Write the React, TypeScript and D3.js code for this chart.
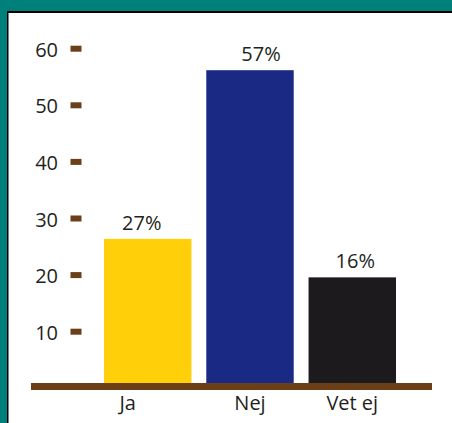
import React from "react";
import * as d3 from "d3";

const categories = ["Ja", "Nej", "Vet ej"];
const values = [26.4, 56.2, 19.6];
const valueLabels = ["27%", "57%", "16%"];
const barColors = ["#ffd00a", "#1a2a84", "#1c1a1d"];
const yTicks = [10, 20, 30, 40, 50, 60];

const W = 452;
const H = 423;
const TEAL = "#00807a";
const BROWN = "#6b3f18";
const FONT = "'Open Sans', 'Noto Sans', sans-serif";

export default function App() {
  const y = d3.scaleLinear().domain([0, 60]).range([388.3, 48.7]);
  const x = d3.scaleBand().domain(categories).range([104, 396]).paddingInner(0.145).paddingOuter(0);
  const catDx = [-20, 0, 0];
  const valDx = [-6, 11, 3];

  return (
    <svg width={W} height={H} style={{ position: "fixed", left: 0, top: 0 }}>
      <rect x={0} y={0} width={W} height={H} fill={TEAL} />
      <rect x={7} y={11} width={W - 7} height={H - 11} fill="#000" />
      <rect x={8.5} y={13} width={W - 8.5} height={H - 13} fill="#fff" />
      {yTicks.map((t) => (
        <g key={t}>
          <rect x={70.5} y={y(t) - 3} width={11} height={6} fill={BROWN} />
          <text x={58} y={y(t)} dy="0.4em" textAnchor="end" fontFamily={FONT} fontSize={20} fill="#231f20">
            {t}
          </text>
        </g>
      ))}
      {categories.map((c, i) => (
        <g key={c}>
          <rect x={x(c)} y={y(values[i])} width={x.bandwidth()} height={384 - y(values[i])} fill={barColors[i]} />
          <text
            x={(x(c) as number) + x.bandwidth() / 2 + valDx[i]}
            y={y(values[i]) - 9}
            textAnchor="middle"
            fontFamily={FONT}
            fontSize={20}
            fill="#231f20"
          >
            {valueLabels[i]}
          </text>
          <text
            x={(x(c) as number) + x.bandwidth() / 2 + catDx[i]}
            y={410}
            textAnchor="middle"
            fontFamily={FONT}
            fontSize={20}
            fill="#231f20"
          >
            {c}
          </text>
        </g>
      ))}
      <rect x={31} y={383} width={401} height={7} fill={BROWN} />
    </svg>
  );
}
